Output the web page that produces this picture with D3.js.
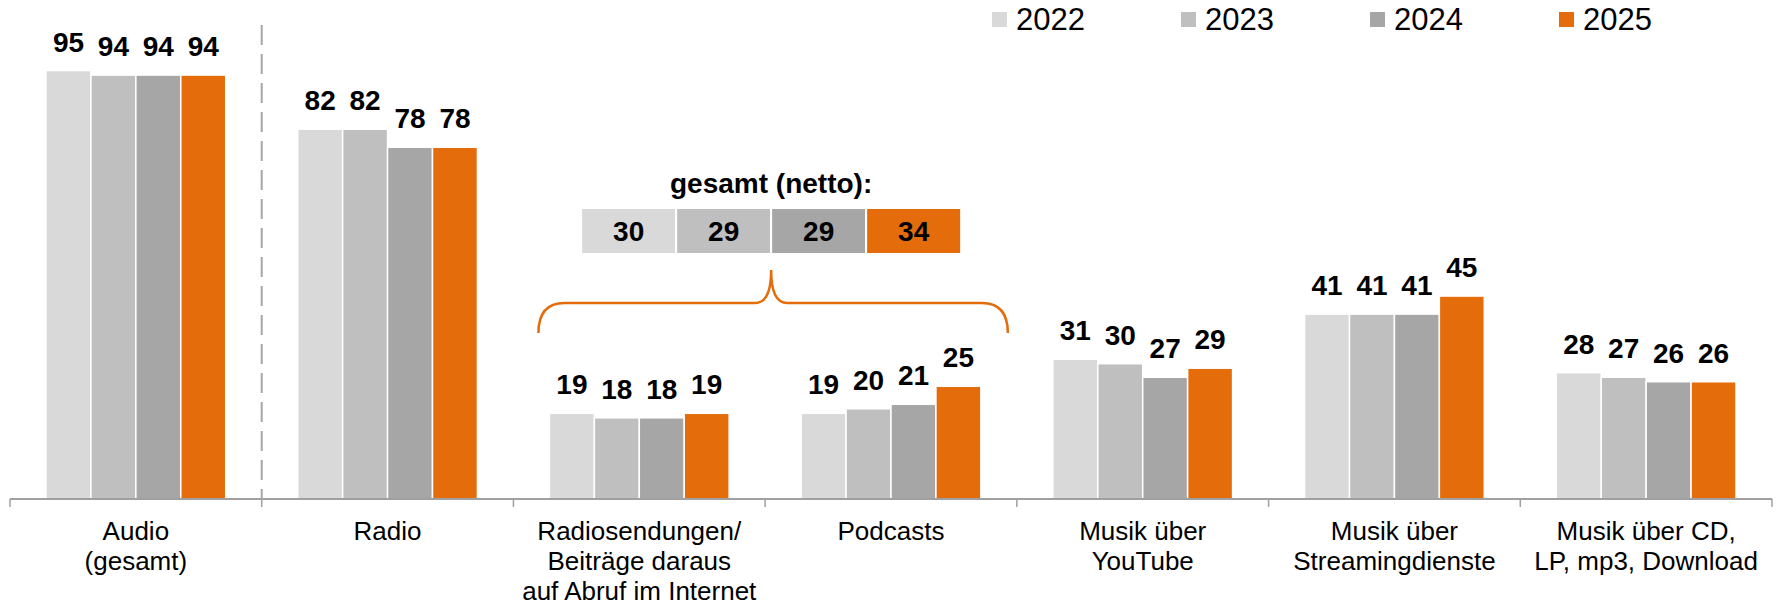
<!DOCTYPE html>
<html>
<head>
<meta charset="utf-8">
<script src="https://cdn.jsdelivr.net/npm/d3@7"></script>
<style>
  body { margin: 0; background: #fff; }
  svg { display: block; font-family: "Liberation Sans", Arial, sans-serif; }
</style>
</head>
<body>
<div id="chart"></div>
<script>
// data
const categories = ["Audio (gesamt)", "Radio", "Radiosendungen", "Podcasts", "YouTube", "Streaming", "CD"];
const categoryLabels = [
  ["Audio", "(gesamt)"],
  ["Radio"],
  ["Radiosendungen/", "Beiträge daraus", "auf Abruf im Internet"],
  ["Podcasts"],
  ["Musik über", "YouTube"],
  ["Musik über", "Streamingdienste"],
  ["Musik über CD,", "LP, mp3, Download"]
];
const years = ["2022", "2023", "2024", "2025"];
const values2022 = [95, 82, 19, 19, 31, 41, 28];
const values2023 = [94, 82, 18, 20, 30, 41, 27];
const values2024 = [94, 78, 18, 21, 27, 41, 26];
const values2025 = [94, 78, 19, 25, 29, 45, 26];
const nettoValues = [30, 29, 29, 34];
const nettoTitle = "gesamt (netto):";

const colors = ["#d9d9d9", "#bfbfbf", "#a6a6a6", "#e46c0a"];

const W = 1781, H = 605;
const svg = d3.select("#chart").append("svg")
  .attr("width", W)
  .attr("height", H);

svg.append("rect").attr("width", W).attr("height", H).attr("fill", "#fff");

const series = [values2022, values2023, values2024, values2025];
const rows = categories.map((c, i) => ({ cat: c, vals: years.map((y, j) => ({ year: y, j, v: series[j][i] })) }));

// scales
const x0 = d3.scaleBand().domain(categories).range([10, 1772]).paddingInner(0).paddingOuter(0);
const x1 = d3.scaleBand().domain(years)
  .range([x0.bandwidth() * 0.143, x0.bandwidth() * 0.857]);
const y = d3.scaleLinear().domain([0, 100]).range([499, 48]);

// bars
const groups = svg.append("g").selectAll("g")
  .data(rows)
  .join("g")
  .attr("transform", d => `translate(${x0(d.cat)},0)`);

groups.selectAll("rect")
  .data(d => d.vals)
  .join("rect")
  .attr("x", d => x1(d.year))
  .attr("width", x1.bandwidth())
  .attr("y", d => y(d.v))
  .attr("height", d => y(0) - y(d.v))
  .attr("fill", d => colors[d.j])
  .attr("stroke", "#fff")
  .attr("stroke-width", 1.5);

groups.selectAll("text")
  .data(d => d.vals)
  .join("text")
  .attr("x", d => x1(d.year) + x1.bandwidth() / 2)
  .attr("y", d => y(d.v) - 19)
  .attr("text-anchor", "middle")
  .attr("font-size", 28)
  .attr("font-weight", "bold")
  .attr("fill", "#000")
  .text(d => d.v);

// axis line + boundary ticks
const bounds = categories.map(c => x0(c)).concat([x0.range()[1]]);
svg.append("line")
  .attr("x1", x0.range()[0]).attr("x2", x0.range()[1])
  .attr("y1", y(0)).attr("y2", y(0))
  .attr("stroke", "#a0a0a0").attr("stroke-width", 2);
svg.append("g").selectAll("line")
  .data(bounds)
  .join("line")
  .attr("x1", d => d).attr("x2", d => d)
  .attr("y1", y(0)).attr("y2", y(0) + 8)
  .attr("stroke", "#a0a0a0").attr("stroke-width", 1.5);

// dashed separator after Audio
svg.append("line")
  .attr("x1", x0(categories[1])).attr("x2", x0(categories[1]))
  .attr("y1", 25).attr("y2", y(0))
  .attr("stroke", "#a6a6a6")
  .attr("stroke-width", 2)
  .attr("stroke-dasharray", "20,9");

// category labels
const labels = svg.append("g").selectAll("text")
  .data(categories)
  .join("text")
  .attr("x", d => x0(d) + x0.bandwidth() / 2)
  .attr("y", y(0) + 41)
  .attr("text-anchor", "middle")
  .attr("font-size", 26)
  .attr("fill", "#000");
labels.selectAll("tspan")
  .data((d, i) => categoryLabels[i])
  .join("tspan")
  .attr("x", function () { return d3.select(this.parentNode).attr("x"); })
  .attr("dy", (d, i) => i === 0 ? 0 : 30)
  .text(d => d);

// legend
const legend = svg.append("g").selectAll("g")
  .data(years)
  .join("g")
  .attr("transform", (d, i) => `translate(${992 + i * 189},0)`);
legend.append("rect")
  .attr("x", 0).attr("y", 12)
  .attr("width", 15).attr("height", 15)
  .attr("fill", (d, i) => colors[i]);
legend.append("text")
  .attr("x", 24).attr("y", 30)
  .attr("font-size", 31)
  .attr("fill", "#000")
  .text(d => d);

// netto annotation over Radiosendungen + Podcasts
const cx = x0(categories[3]) + 6;
const boxW = 95, boxH = 46, boxTop = 208;
const xb = d3.scaleBand().domain(years).range([cx - 2 * boxW, cx + 2 * boxW]);

svg.append("text")
  .attr("x", cx).attr("y", 193)
  .attr("text-anchor", "middle")
  .attr("font-size", 28)
  .attr("font-weight", "bold")
  .text(nettoTitle);

const boxes = svg.append("g").selectAll("g")
  .data(nettoValues)
  .join("g");
boxes.append("rect")
  .attr("x", (d, i) => xb(years[i]))
  .attr("y", boxTop)
  .attr("width", xb.bandwidth())
  .attr("height", boxH)
  .attr("fill", (d, i) => colors[i])
  .attr("stroke", "#fff")
  .attr("stroke-width", 2);
boxes.append("text")
  .attr("x", (d, i) => xb(years[i]) + xb.bandwidth() / 2)
  .attr("y", boxTop + boxH / 2 + 10)
  .attr("text-anchor", "middle")
  .attr("font-size", 28)
  .attr("font-weight", "bold")
  .text(d => d);

// curly brace
const L = x0(categories[2]) + 25, R = x0(categories[3]) + x0.bandwidth() - 9;
const yb = 333, yh = 303, yp = 270;
const brace = `M${L},${yb} Q${L},${yh} ${L + 26},${yh} H${cx - 16} Q${cx},${yh} ${cx},${yp}` +
  ` Q${cx},${yh} ${cx + 16},${yh} H${R - 26} Q${R},${yh} ${R},${yb}`;
svg.append("path")
  .attr("d", brace)
  .attr("fill", "none")
  .attr("stroke", "#e46c0a")
  .attr("stroke-width", 2.5);
</script>
</body>
</html>
